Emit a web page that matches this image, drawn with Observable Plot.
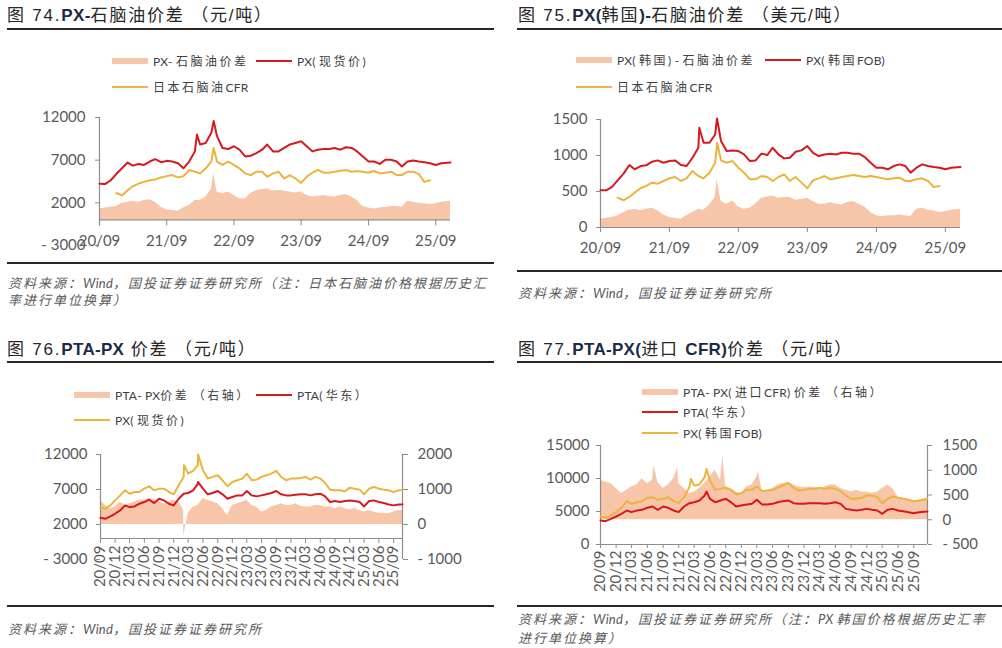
<!DOCTYPE html>
<html><head><meta charset="utf-8">
<script src="https://cdn.jsdelivr.net/npm/d3@7"></script>
<script src="https://cdn.jsdelivr.net/npm/@observablehq/plot@0.6"></script>
<style>
body{margin:0;background:#fff;}
#root{position:relative;width:1002px;height:648px;overflow:hidden;background:#fff;}
.title{position:absolute;font-family:"Liberation Sans","Noto Sans CJK SC",sans-serif;font-size:17px;color:#262626;white-space:nowrap;letter-spacing:1.8px;line-height:20px;}
.title b{color:#1c2b45;letter-spacing:0.3px;}
.bar{position:absolute;background:#262626;}
.leg{position:absolute;font-family:Lato,"Noto Sans CJK SC",sans-serif;font-size:12px;color:#404040;letter-spacing:2.5px;white-space:nowrap;line-height:16px;}
.src{position:absolute;font-family:Lato,"Noto Sans CJK SC",sans-serif;font-style:italic;font-size:13px;color:#595959;letter-spacing:2px;white-space:nowrap;line-height:18px;}
.lat{letter-spacing:0.2px;}
.sw{position:absolute;}
.plot{position:absolute;}
</style></head><body><div id="root"></div>
<script>
// ---------- DATA (monthly readings, 2020-09 .. 2025-11) ----------
const startMonth = "2020-09-01";
const endMonth = "2025-12-01";

// Fig 74 (元/吨)
const pxSpot1 = [4250,4200,4650,5370,
 6050,6720,6360,6560,6440,6840,7120,6760,6920,6840,6640,6050,
 6840,8030,8830,9020,10210,9820,8430,8300,8630,8230,7440,7520,
 7830,8230,8830,8030,8030,8430,8830,9020,9220,8630,8030,8230,
 8300,8300,8430,8230,8510,8430,8030,7440,6840,6840,6560,7040,
 7040,6840,6250,6840,6960,6840,6760,6640,6440,6640,6720];
const naphCny1 = [null,null,null,3150,
 2870,3470,3940,4260,4460,4650,4730,4980,5130,5250,4980,5130,
 5850,5650,5450,6050,6840,6840,6440,6840,6440,6050,5450,5250,
 5650,5650,5050,5450,5650,4850,5250,4850,4340,5050,5530,5850,
 5530,5530,5650,5770,5850,5650,5730,5650,5530,5730,5450,5530,
 5650,5250,5250,5650,5650,5370,4460,4650,null,null,null];
const spreadCny1 = [1290,1400,1480,1560,
 1960,2070,2200,2070,2270,2360,2070,1480,1170,1090,1010,1400,
 1680,2270,2270,2670,3540,3260,3060,3260,2870,2470,2470,3060,
 3460,3540,3660,3380,3460,3380,3260,3150,3260,2870,2670,2750,
 2870,2750,2670,2870,2990,2670,2270,1560,1400,1290,1400,1480,
 1560,1560,1480,2200,2070,1960,1880,1800,1880,2070,2200];
const pxSpot1Spikes = [["2022-02-12",10000],["2022-05-14",11600]];
const naphCny1Spikes = [["2022-05-14",8430]];
const spreadCny1Spikes = [["2022-05-14",5450]];

// Fig 75 (美元/吨)
const pxFob2 = [517,517,563,655,
 748,868,808,854,863,914,932,900,923,932,868,854,
 969,1108,1177,1177,1292,1200,1061,1071,1061,1015,923,932,
 1025,1006,1108,1015,960,969,1052,1071,1131,1038,992,1015,
 1025,1015,1038,1038,1025,1025,978,900,831,831,808,854,
 877,854,761,831,877,854,840,831,808,831,840];
const naphUsd2 = [null,null,null,415,
 378,425,485,545,577,623,609,646,683,701,646,683,
 785,715,683,761,900,932,900,923,831,761,669,669,
 715,701,646,701,738,646,701,623,545,655,683,715,
 669,683,701,715,729,715,701,715,701,683,669,683,
 692,646,646,669,683,646,563,577,null,null,null];
const spreadUsd2 = [115,129,138,162,
 208,240,254,231,254,268,231,175,138,129,115,162,
 208,254,240,314,415,369,323,369,286,254,268,323,
 406,425,438,406,415,415,378,392,406,360,323,323,
 346,323,314,346,360,323,286,208,162,148,162,162,
 175,162,148,254,268,240,231,208,222,240,254];
const pxFob2Spikes = [["2022-02-06",1385],["2022-05-11",1514]];
const naphUsd2Spikes = [["2022-05-12",1177]];
const spreadUsd2Spikes = [["2022-05-11",669]];

// Fig 76 (元/吨)
const pxSpot3 = [4390,4250,4730,5440,
 6160,6880,6400,6640,6640,7120,7450,6880,7120,7120,6640,6310,
 7600,8800,9270,9660,10470,9750,8560,8800,9030,8320,7450,8080,
 8320,8560,9270,8320,8410,8800,9030,9270,9660,8800,8320,8560,
 8560,8650,8800,8410,8800,8560,7930,6980,6880,6880,6740,7260,
 7120,6980,6310,7120,7360,7120,6980,6880,6640,6880,6880];
const pta3 = [2960,2810,3150,3530,
 4010,4730,4490,4580,4970,5210,5540,5060,5680,5440,4970,4730,
 5680,6400,6500,6880,7840,7120,6310,6500,6780,6310,5680,5920,
 6160,6160,6780,6160,6020,6160,6310,6500,6780,6310,6160,6160,
 6260,6310,6310,6160,6310,6400,6020,5210,5350,5210,5350,5440,
 5350,5210,4580,5350,5440,5210,5060,4870,4730,4870,4870];
const spread3 = [690,545,450,500,
 640,545,590,640,690,690,740,690,640,590,640,690,
 640,400,305,500,545,740,690,640,590,450,260,545,
 590,640,690,545,500,355,400,500,545,590,545,545,
 590,515,500,500,545,545,500,500,450,500,450,420,
 450,400,355,400,355,325,325,305,355,400,400];
const pxSpot3Spikes = [["2022-02-03",10470],["2022-05-01",12050]];
const pta3Spikes = [["2022-05-01",8080]];
const spread3Spikes = [["2022-02-01",-345]];

// Fig 77 (元/吨)
const pxFob4 = [4240,4040,4390,4900,
 5560,6570,6160,6410,6570,7070,7170,6770,6920,7170,6570,6260,
 7170,8690,8940,9090,10200,9700,8280,8430,8590,8280,7580,7780,
 8280,8280,8790,8080,8180,8280,8590,8940,9290,8590,8180,8280,
 8430,8430,8590,8430,8590,8430,8080,7420,6920,6920,7070,7420,
 7420,7170,6260,6920,7270,7070,6920,6770,6570,6670,6920];
const pta4 = [3640,3540,3890,4240,
 4650,5150,4900,5150,5250,5560,5760,5250,5760,5560,5150,4900,
 5760,6260,6410,6670,7420,6920,6410,6670,6920,6410,5760,5910,
 6060,6160,6770,6060,6060,6160,6410,6570,6670,6260,6160,6160,
 6260,6260,6260,6160,6260,6410,6160,5400,5250,5150,5250,5400,
 5250,5150,4650,5250,5400,5150,5050,4900,4750,4900,5000];
const spread4 = [800,760,730,630,
 530,595,660,700,830,730,800,760,630,700,830,730,
 630,530,560,630,730,865,1000,800,660,630,560,530,
 660,700,865,595,560,630,700,730,760,700,660,650,
 660,650,630,660,700,700,630,595,560,595,560,560,
 530,560,630,700,630,460,425,390,360,390,425];
const pxFob4Spikes = [["2022-02-10",9950],["2022-05-12",11460]];
const pta4Spikes = [["2022-05-12",8030]];
const spread4Spikes = [["2021-07-10",1100],["2021-11-25",1050],["2022-08-15",1280],["2023-03-10",965]];

const ticks1 = [-3000,2000,7000,12000];
const ticks2 = [0,500,1000,1500];
const ticks3L = [-3000,2000,7000,12000];
const ticks3R = [-1000,0,1000,2000];
const ticks4L = [0,5000,10000,15000];
const ticks4R = [-500,0,500,1000,1500];

// ---------- helpers ----------
const RED = "#d7191f", YEL = "#ebb43c", PEACH = "#f7c5a8", AX = "#8c8c8c";
const months = d3.utcMonth.range(new Date(startMonth), new Date(endMonth));
const x0 = new Date(startMonth);
const endA = new Date("2025-11-20");
const endB = new Date("2025-10-26");
const yearTicks = d3.utcMonth.range(x0, new Date("2025-09-02"), 12);
const quarterTicks = d3.utcMonth.range(x0, new Date("2025-09-02"), 3);
const fmtDate = d3.utcFormat("%y/%m");
const fmtNum = d => d < 0 ? "- " + Math.abs(d) : String(d);

function rows(vals, spikes, end) {
  const r = vals.map((v, i) => ({date: i === vals.length - 1 ? end : months[i], value: v}));
  for (const [d, v] of spikes) r.push({date: new Date(d), value: v});
  return r.sort((a, b) => a.date - b.date);
}
const style = {fontFamily: "Lato, sans-serif", fontSize: "15px", color: "#595959", background: "transparent", overflow: "visible"};

const root = document.getElementById("root");
function add(node, left, top) { node.classList.add("plot"); node.style.left = left + "px"; node.style.top = top + "px"; root.appendChild(node); }
function lat(s) { return s.replace(/([A-Za-z0-9()\-,. ]+)/g, '<span class="lat">$1</span>'); }
function div(cls, left, top, html, css) {
  const e = document.createElement("div"); e.className = cls;
  e.style.left = left + "px"; e.style.top = top + "px";
  if (css) Object.assign(e.style, css);
  if (html != null) e.innerHTML = html;
  root.appendChild(e); return e;
}
function legend(kind, color, x, y, label) {
  const h = kind === "area" ? 6 : 2;
  div("sw", x, y - h / 2, null, {width: "36px", height: h + "px", background: color});
  div("leg", x + 41, y - 7, lat(label));
}
function src(x, y, text) { div("src", x, y, lat(text)); }

// ---------- Fig 74 ----------
div("title", 7, 6, '图 74.<b>PX-</b>石脑油价差 （元/吨）');
div("bar", 7, 28, null, {width: "487px", height: "2px"});
legend("area", PEACH, 112, 60.5, "PX- 石脑油价差");
legend("line", RED, 256, 60.5, "PX( 现货价)");
legend("line", YEL, 112, 87, "日本石脑油CFR");
add(Plot.plot({
  width: 500, height: 160, marginLeft: 99, marginRight: 50, marginTop: 17, marginBottom: 15,
  x: {type: "utc", domain: [x0, endA], label: null}, y: {domain: [-3000, 12000], label: null}, style,
  marks: [
    Plot.areaY(rows(spreadCny1, spreadCny1Spikes, endA), {x: "date", y: "value", fill: PEACH}),
    Plot.ruleY([0], {stroke: AX, strokeWidth: 1.2}),
    Plot.ruleX([x0], {y1: -700, y2: 12000, stroke: AX, strokeWidth: 1.2}),
    Plot.ruleX(yearTicks, {y1: 0, y2: -700, stroke: AX}),
    Plot.line(rows(naphCny1, naphCny1Spikes, endA), {x: "date", y: "value", stroke: YEL, strokeWidth: 2}),
    Plot.line(rows(pxSpot1, pxSpot1Spikes, endA), {x: "date", y: "value", stroke: RED, strokeWidth: 2}),
    Plot.axisY({ticks: ticks1, tickSize: 4, tickPadding: 10, tickFormat: fmtNum, stroke: AX, label: null}),
    Plot.axisX({ticks: yearTicks, tickSize: 0, tickPadding: 0, dy: -10, tickFormat: fmtDate, label: null})
  ]
}), 0, 100);
div("bar", 7, 262, null, {width: "487px", height: "1.5px"});
src(8, 274, "资料来源：Wind，国投证券证券研究所（注：日本石脑油价格根据历史汇");
src(8, 291, "率进行单位换算）");

// ---------- Fig 75 ----------
div("title", 518, 6, '图 75.<b>PX(</b>韩国<b>)-</b>石脑油价差 （美元/吨）');
div("bar", 517, 28, null, {width: "485px", height: "2px"});
legend("area", PEACH, 576, 60, "PX( 韩国) - 石脑油价差");
legend("line", RED, 765, 60, "PX( 韩国FOB)");
legend("line", YEL, 576, 86.5, "日本石脑油CFR");
add(Plot.plot({
  width: 502, height: 160, marginLeft: 100, marginRight: 42, marginTop: 19, marginBottom: 33,
  x: {type: "utc", domain: [x0, endA], label: null}, y: {domain: [0, 1500], label: null}, style,
  marks: [
    Plot.areaY(rows(spreadUsd2, spreadUsd2Spikes, endA), {x: "date", y: "value", fill: PEACH}),
    Plot.ruleY([0], {stroke: AX, strokeWidth: 1.2}),
    Plot.ruleX([x0], {stroke: AX, strokeWidth: 1.2}),
    Plot.line(rows(naphUsd2, naphUsd2Spikes, endA), {x: "date", y: "value", stroke: YEL, strokeWidth: 2}),
    Plot.line(rows(pxFob2, pxFob2Spikes, endA), {x: "date", y: "value", stroke: RED, strokeWidth: 2}),
    Plot.axisY({ticks: ticks2, tickSize: 4, tickPadding: 9, tickFormat: fmtNum, stroke: AX, label: null}),
    Plot.axisX({ticks: yearTicks, tickSize: 5, tickPadding: 10, tickFormat: fmtDate, stroke: AX, label: null})
  ]
}), 500, 100);
div("bar", 517, 270, null, {width: "485px", height: "1.5px"});
src(518, 284, "资料来源：Wind，国投证券证券研究所");

// ---------- Fig 76 ----------
div("title", 7, 340, '图 76.<b>PTA-PX</b> 价差 （元/吨）');
div("bar", 7, 361, null, {width: "487px", height: "2px"});
legend("area", PEACH, 74, 394.5, "PTA- PX价差 （右轴）");
legend("line", RED, 256, 394.5, "PTA( 华东）");
legend("line", YEL, 74, 420, "PX( 现货价)");
add(Plot.plot({
  width: 500, height: 170, marginLeft: 100, marginRight: 98, marginTop: 24, marginBottom: 41,
  x: {type: "utc", domain: [x0, endB], axis: null}, y: {domain: [-1000, 2000], label: null}, style,
  marks: [
    Plot.areaY(rows(spread3, spread3Spikes, endB), {x: "date", y: "value", fill: PEACH}),
    Plot.ruleX([endB], {stroke: AX, strokeWidth: 1.2}),
    Plot.axisY({anchor: "right", ticks: ticks3R, tickSize: 5, tickPadding: 10, tickFormat: fmtNum, stroke: AX, label: null})
  ]
}), 0, 430);
add(Plot.plot({
  width: 500, height: 170, marginLeft: 100, marginRight: 98, marginTop: 24, marginBottom: 41,
  x: {type: "utc", domain: [x0, endB], label: null}, y: {domain: [-3000, 12000], label: null}, style,
  marks: [
    Plot.ruleY([0], {stroke: AX, strokeWidth: 1.2}),
    Plot.ruleX([x0], {y1: 0, y2: 12000, stroke: AX, strokeWidth: 1.2}),
    Plot.ruleX(quarterTicks, {y1: 0, y2: -700, stroke: AX}),
    Plot.line(rows(pxSpot3, pxSpot3Spikes, endB), {x: "date", y: "value", stroke: YEL, strokeWidth: 2}),
    Plot.line(rows(pta3, pta3Spikes, endB), {x: "date", y: "value", stroke: RED, strokeWidth: 2}),
    Plot.axisY({ticks: ticks3L, tickSize: 4, tickPadding: 9, tickFormat: fmtNum, stroke: AX, label: null}),
    Plot.axisX({ticks: quarterTicks, tickRotate: -90, tickSize: 0, tickPadding: 0, dy: -14, tickFormat: fmtDate, label: null})
  ]
}), 0, 430);
div("bar", 7, 605, null, {width: "487px", height: "1.5px"});
src(8, 620, "资料来源：Wind，国投证券证券研究所");

// ---------- Fig 77 ----------
div("title", 518, 340, '图 77.<b>PTA-PX(</b>进口 <b>CFR)</b>价差 （元/吨）');
div("bar", 517, 361, null, {width: "485px", height: "2px"});
legend("area", PEACH, 642, 391.5, "PTA- PX( 进口CFR) 价差 （右轴）");
legend("line", RED, 642, 411.5, "PTA( 华东）");
legend("line", YEL, 642, 432.5, "PX( 韩国FOB)");
add(Plot.plot({
  width: 502, height: 170, marginLeft: 100, marginRight: 75, marginTop: 15, marginBottom: 56,
  x: {type: "utc", domain: [x0, endA], axis: null}, y: {domain: [-500, 1500], label: null}, style,
  marks: [
    Plot.areaY(rows(spread4, spread4Spikes, endA), {x: "date", y: "value", fill: PEACH}),
    Plot.ruleX([endA], {stroke: AX, strokeWidth: 1.2}),
    Plot.axisY({anchor: "right", ticks: ticks4R, tickSize: 4, tickPadding: 11, tickFormat: fmtNum, stroke: AX, label: null})
  ]
}), 500, 430);
add(Plot.plot({
  width: 502, height: 170, marginLeft: 100, marginRight: 75, marginTop: 15, marginBottom: 56,
  x: {type: "utc", domain: [x0, endA], label: null}, y: {domain: [0, 15000], label: null}, style,
  marks: [
    Plot.ruleY([0], {stroke: AX, strokeWidth: 1.2}),
    Plot.ruleX([x0], {stroke: AX, strokeWidth: 1.2}),
    Plot.line(rows(pxFob4, pxFob4Spikes, endA), {x: "date", y: "value", stroke: YEL, strokeWidth: 2}),
    Plot.line(rows(pta4, pta4Spikes, endA), {x: "date", y: "value", stroke: RED, strokeWidth: 2}),
    Plot.axisY({ticks: ticks4L, tickSize: 4, tickPadding: 7, tickFormat: fmtNum, stroke: AX, label: null}),
    Plot.axisX({ticks: quarterTicks, tickRotate: -90, tickSize: 4, tickPadding: 2, tickFormat: fmtDate, stroke: AX, label: null})
  ]
}), 500, 430);
div("bar", 517, 605, null, {width: "485px", height: "1.5px"});
src(518, 610, "资料来源：Wind，国投证券证券研究所（注：PX 韩国价格根据历史汇率");
src(518, 629, "进行单位换算）");
</script>
</body></html>
